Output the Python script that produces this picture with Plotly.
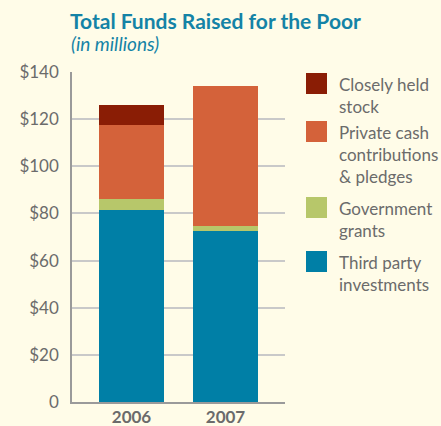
import plotly.graph_objects as go

# ---- data ----
years = ["2006", "2007"]
series_names = ["Third party investments", "Government grants",
                "Private cash contributions & pledges", "Closely held stock"]
third_party = [81.5, 72.5]
government = [4.5, 2.0]
private_cash = [31.5, 59.5]
closely_held = [8.5, 0.0]
y_tickvals = [0, 20, 40, 60, 80, 100, 120, 140]
y_ticktext = ["0", "$20", "$40", "$60", "$80", "$100", "$120", "$140"]
legend_labels = [
    ("Closely held<br>stock", "#8A1D05"),
    ("Private cash<br>contributions<br>& pledges", "#D4623A"),
    ("Government<br>grants", "#B7C76A"),
    ("Third party<br>investments", "#007FA6"),
]

colors = ["#007FA6", "#B7C76A", "#D4623A", "#8A1D05"]
values = [third_party, government, private_cash, closely_held]

W, H = 441, 426
ML, MR, MT, MB = 72, 156, 72, 24
PW = W - ML - MR
PH = H - MT - MB
BG = "#FFFCE8"
FONT = "Lato"
GRAY = "#6b6b6b"
TEAL = "#1483A6"

def px2x(p):
    return (p - ML) / PW

def px2y(p):
    return (H - MB - p) / PH

fig = go.Figure()
for name, vals, c in zip(series_names, values, colors):
    fig.add_trace(go.Bar(x=years, y=vals, name=name, marker_color=c,
                         marker_line_width=0, width=0.7, showlegend=False))

fig.update_layout(
    barmode="stack",
    width=W, height=H,
    margin=dict(l=ML, r=MR, t=MT, b=MB, autoexpand=False),
    paper_bgcolor=BG, plot_bgcolor=BG,
    font=dict(family=FONT, color=GRAY, size=16),
)
fig.update_xaxes(
    type="category", range=[-0.633, 1.633], automargin=False,
    showline=True, linecolor="#9a9a9a", linewidth=1.5,
    showgrid=False, ticks="", tickfont=dict(family=FONT, size=17, color=GRAY, weight="bold"),
    ticklabelstandoff=-1,
)
fig.update_yaxes(
    range=[0, 140], tickvals=y_tickvals, ticktext=y_ticktext, automargin=False,
    showline=True, linecolor="#9a9a9a", linewidth=1.5,
    showgrid=True, gridcolor="#c9c9c9", gridwidth=1.5,
    zeroline=False, ticks="", ticklabelstandoff=8,
    tickfont=dict(family=FONT, size=17, color=GRAY),
)

# title and subtitle
fig.add_annotation(text="<b>Total Funds Raised for the Poor</b>", xref="paper", yref="paper",
                   x=px2x(68), y=px2y(20), xanchor="left", yanchor="middle", showarrow=False,
                   font=dict(family=FONT, size=21, color=TEAL))
fig.add_annotation(text="<i>(in millions)</i>", xref="paper", yref="paper",
                   x=px2x(69), y=px2y(43), xanchor="left", yanchor="middle", showarrow=False,
                   font=dict(family=FONT, size=19, color=TEAL))

# custom legend
tops = [73, 121, 197, 251]
for (label, c), top in zip(legend_labels, tops):
    fig.add_shape(type="rect", xref="paper", yref="paper",
                  x0=px2x(306), x1=px2x(327), y0=px2y(top + 21), y1=px2y(top),
                  fillcolor=c, line_width=0)
    fig.add_annotation(text=label, xref="paper", yref="paper",
                       x=px2x(337), y=px2y(top - 1), xanchor="left", yanchor="top",
                       align="left", showarrow=False,
                       font=dict(family=FONT, size=17, color=GRAY))

fig.write_html("out.html", config={"displayModeBar": False},
               post_script="document.body.style.margin='0';document.body.style.background='#FFFCE8';")
